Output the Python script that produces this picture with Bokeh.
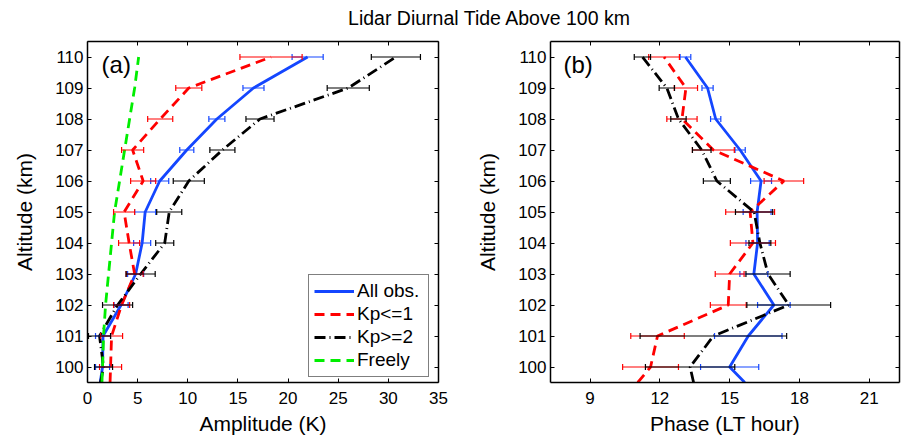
import numpy as np
from bokeh.plotting import figure
from bokeh.models import (Range1d, LinearAxis, FixedTicker, Whisker, TeeHead,
                          ColumnDataSource, Label, Legend, LegendItem, Div)
from bokeh.layouts import column, row
from bokeh.embed import file_html
from bokeh.resources import INLINE

# ---------------- data ----------------
altitude = [100, 101, 102, 103, 104, 105, 106, 107, 108, 109, 110]
altitude_edge = 99.5  # the profile lines continue down to the plot's lower edge

# Amplitude (K)
amp_all = [1.5, 1.55, 3.35, 4.8, 5.45, 5.75, 7.2, 9.9, 12.9, 16.55, 21.95]
amp_all_err = [0.7, 0.75, 0.7, 0.8, 0.85, 1.05, 0.9, 0.7, 0.8, 1.05, 1.55]
amp_kp1 = [2.3, 2.4, 3.4, 4.7, 4.15, 3.65, 5.55, 4.5, 7.25, 10.1, 18.3]
amp_kp1_err = [1.1, 1.1, 0.8, 0.85, 1.05, 1.05, 1.25, 1.1, 1.25, 1.3, 3.1]
amp_kp2 = [1.6, 1.2, 3.0, 5.3, 7.7, 8.15, 10.1, 13.45, 17.2, 26.0, 30.75]
amp_kp2_err = [0.9, 1.1, 1.5, 1.45, 0.9, 1.25, 1.55, 1.25, 1.4, 2.1, 2.45]
amp_free = [1.5, 1.6, 1.8, 2.1, 2.4, 2.7, 3.2, 3.7, 4.2, 4.7, 5.1]
amp_edge = [1.27, 2.25, 1.3, 1.44]   # all, Kp<=1, Kp>=2, Freely at 99.5 km

# Phase (LT hour)
ph_all = [15.0, 15.8, 16.9, 16.04, 16.2, 16.18, 16.35, 15.45, 14.4, 14.05, 13.1]
ph_all_err = [1.25, 1.45, 0.7, 0.6, 0.5, 0.6, 0.45, 0.22, 0.22, 0.24, 0.23]
ph_kp1 = [11.6, 11.9, 14.94, 15.0, 16.0, 15.88, 17.33, 14.3, 12.95, 13.12, 12.18]
ph_kp1_err = [1.2, 1.15, 0.77, 0.62, 0.97, 1.05, 0.85, 0.9, 0.65, 0.5, 0.66]
ph_kp2 = [13.3, 14.3, 17.54, 16.65, 16.3, 16.05, 14.45, 13.8, 12.8, 12.3, 11.25]
ph_kp2_err = [1.92, 3.15, 1.8, 0.95, 0.47, 0.8, 0.58, 0.4, 0.33, 0.33, 0.35]
ph_edge = [15.65, 11.05, 13.45]       # all, Kp<=1, Kp>=2 at 99.5 km

amp_ticks = [0, 5, 10, 15, 20, 25, 30, 35]
ph_ticks = [9, 12, 15, 18, 21]
series_labels = ["All obs.", "Kp<=1", "Kp>=2", "Freely"]

# ---------------- styles ----------------
FONT = "Liberation Sans"
BLUE = "#1446ff"
RED = "#ff0000"
BLACK = "#000000"
GREEN = "#00ee00"
LW = 2.8


def base_fig(width, xr, xticks, xlabel, left, right):
    p = figure(width=width, height=406, x_range=Range1d(*xr),
               y_range=Range1d(99.5, 110.5), output_backend="svg",
               toolbar_location=None, min_border_left=left,
               min_border_right=right, min_border_top=7, min_border_bottom=58)
    p.grid.visible = False
    p.outline_line_color = None
    p.background_fill_color = "white"
    p.border_fill_color = "white"
    p.xaxis.ticker = FixedTicker(ticks=xticks)
    p.yaxis.ticker = FixedTicker(ticks=altitude)
    p.xaxis.axis_label = xlabel
    p.yaxis.axis_label = "Altitude (km)"
    for ax in [p.xaxis[0], p.yaxis[0]]:
        ax.axis_line_width = 1.5
        ax.axis_line_color = "black"
        ax.major_tick_in = 4
        ax.major_tick_out = 0
        ax.major_tick_line_color = "black"
        ax.minor_tick_line_color = None
        ax.major_label_text_font = FONT
        ax.major_label_text_font_size = "17px"
        ax.major_label_text_color = "black"
        ax.axis_label_text_font = FONT
        ax.axis_label_text_font_size = "21px"
        ax.axis_label_text_font_style = "normal"
        ax.axis_label_text_color = "black"
    p.xaxis.major_label_standoff = 9
    p.xaxis.axis_label_standoff = 5
    p.yaxis.major_label_standoff = 4
    p.yaxis.axis_label_standoff = 16
    for loc, ticks in (("above", xticks), ("right", altitude)):
        ax = LinearAxis(ticker=FixedTicker(ticks=ticks),
                        major_label_text_font_size="1px",
                        major_label_text_color=None,
                        major_label_standoff=0, major_tick_in=4,
                        major_tick_out=0, minor_tick_line_color=None,
                        axis_line_width=1.5, axis_line_color="black")
        p.add_layout(ax, loc)
    return p


def profile(p, vals, errs, edge, color, dash):
    xs = [edge] + list(vals)
    ys = [altitude_edge] + altitude
    r = p.line(xs, ys, line_color=color, line_width=LW, line_dash=dash)
    if errs is not None:
        v = np.array(vals)
        e = np.array(errs)
        src = ColumnDataSource(dict(y=altitude, lo=v - e, hi=v + e))
        w = Whisker(base="y", lower="lo", upper="hi", dimension="width",
                    source=src, line_color=color, line_width=1.2,
                    upper_head=TeeHead(size=6, line_color=color, line_width=1.2),
                    lower_head=TeeHead(size=6, line_color=color, line_width=1.2),
                    level="glyph")
        p.add_layout(w)
    return r


# ---------------- panel (a) ----------------
p1 = base_fig(470, (0, 35), amp_ticks, "Amplitude (K)", 87, 32)
r_all = profile(p1, amp_all, amp_all_err, amp_edge[0], BLUE, "solid")
r_kp1 = profile(p1, amp_kp1, amp_kp1_err, amp_edge[1], RED, "10 6")
r_kp2 = profile(p1, amp_kp2, amp_kp2_err, amp_edge[2], BLACK, "11 4 1 4")
r_free = profile(p1, amp_free, None, amp_edge[3], GREEN, "10 6")
p1.add_layout(Label(x=1.4, y=109.76, text="(a)", text_font=FONT,
                    text_font_size="24px", text_baseline="middle",
                    text_color="black"))
legend = Legend(items=[LegendItem(label=series_labels[0], renderers=[r_all]),
                       LegendItem(label=series_labels[1], renderers=[r_kp1]),
                       LegendItem(label=series_labels[2], renderers=[r_kp2]),
                       LegendItem(label=series_labels[3], renderers=[r_free])],
                location=(221, 5), border_line_color="black",
                border_line_width=1, background_fill_color="white",
                background_fill_alpha=1, label_text_font=FONT,
                label_text_font_size="19px", label_text_color="black",
                glyph_width=40, glyph_height=20, label_height=20,
                label_width=66, spacing=1, padding=5, label_standoff=3,
                margin=0)
p1.add_layout(legend)

# ---------------- panel (b) ----------------
p2 = base_fig(431, (7.3, 22.3), ph_ticks, "Phase (LT hour)", 80, 2)
profile(p2, ph_all, ph_all_err, ph_edge[0], BLUE, "solid")
profile(p2, ph_kp1, ph_kp1_err, ph_edge[1], RED, "10 6")
profile(p2, ph_kp2, ph_kp2_err, ph_edge[2], BLACK, "11 4 1 4")
p2.add_layout(Label(x=7.86, y=109.76, text="(b)", text_font=FONT,
                    text_font_size="24px", text_baseline="middle",
                    text_color="black"))

title = Div(text=('<div style="margin-left:67px;width:834px;text-align:center;'
                  'font-family:\'Liberation Sans\';font-size:19.5px;line-height:19px;'
                  'padding-top:4px;color:black">Lidar Diurnal Tide Above 100 km</div>'),
            width=901, height=24)

layout = column(title, row(p1, p2))
open("out.html", "w").write(file_html(layout, INLINE, title="Lidar Diurnal Tide"))
